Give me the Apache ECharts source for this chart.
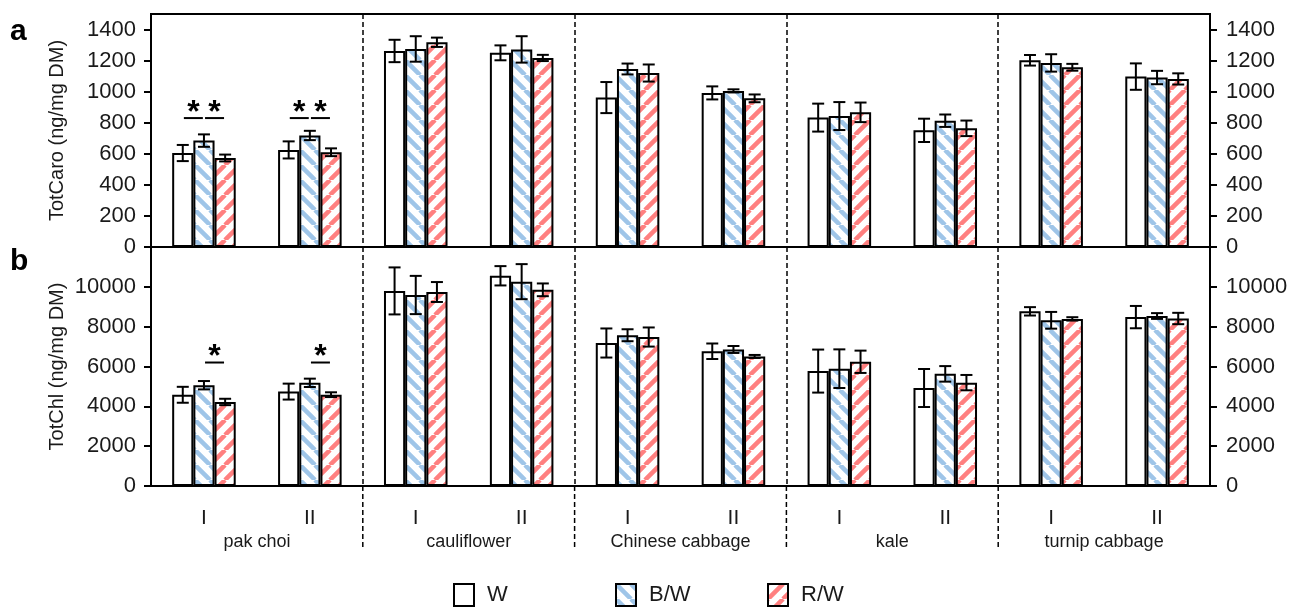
<html>
<head>
<script src="https://cdn.jsdelivr.net/npm/echarts/dist/echarts.min.js"></script>
<style>
    body { margin: 0; background: #fff; }
    #chart { width: 1309px; height: 610px; }
</style>
</head>
<body>
<div id="chart"></div>
<script>
// ---- data ----
const groups = ['pak choi', 'cauliflower', 'Chinese cabbage', 'kale', 'turnip cabbage'];
const harvests = ['I', 'II'];
const treatments = ['W', 'B/W', 'R/W'];

// TotCaro (panel a), order: pak choi I, II, cauliflower I, II, ...
const caroW = [605, 625, 1262, 1250, 962, 992, 833, 751, 1202, 1097];
const caroWErr = [52, 55, 72, 48, 100, 42, 90, 75, 34, 85];
const caroB = [685, 718, 1275, 1272, 1146, 1005, 843, 813, 1185, 1091];
const caroBErr = [40, 30, 82, 85, 35, 10, 90, 40, 56, 43];
const caroR = [573, 610, 1318, 1217, 1120, 957, 867, 764, 1157, 1082];
const caroRErr = [22, 25, 30, 20, 55, 25, 63, 50, 22, 36];

// TotChl (panel b)
const chlW = [4580, 4740, 9795, 10555, 7180, 6765, 5770, 4920, 8770, 8480];
const chlWErr = [400, 400, 1180, 485, 730, 390, 1080, 955, 210, 560];
const chlB = [5060, 5180, 9590, 10260, 7570, 6855, 5890, 5630, 8320, 8535];
const chlBErr = [210, 210, 960, 880, 300, 175, 970, 390, 420, 145];
const chlR = [4220, 4585, 9740, 9850, 7480, 6505, 6237, 5190, 8390, 8410];
const chlRErr = [160, 120, 500, 320, 480, 75, 560, 385, 85, 285];

// significance: [category, from bar, to bar, height of the line]
const sigCaro = [[0, 0, 1, 830], [0, 1, 2, 830], [1, 0, 1, 830], [1, 1, 2, 830]];
const sigChl = [[0, 1, 2, 6200], [1, 1, 2, 6200]];

const caroTicks = [0, 200, 400, 600, 800, 1000, 1200, 1400];
const chlTicks = [0, 2000, 4000, 6000, 8000, 10000];
const caroMax = 1500, chlMax = 12000;

// ---- helpers ----
const categories = [];
groups.forEach(g => harvests.forEach(h => categories.push(g + '|' + h)));

const FONT = 'Arial, "Liberation Sans", sans-serif';
const TXT = '#1a1a1a';

function stripes(color, dir) {
    const s = 15;
    const c = document.createElement('canvas');
    c.width = c.height = s;
    const g = c.getContext('2d');
    g.fillStyle = '#fff';
    g.fillRect(0, 0, s, s);
    g.strokeStyle = color;
    g.lineWidth = 4.5;
    g.beginPath();
    for (let k = -1; k <= 1; k++) {
        if (dir > 0) { g.moveTo(k * s, s); g.lineTo(k * s + s, 0); }
        else { g.moveTo(k * s, 0); g.lineTo(k * s + s, s); }
    }
    g.stroke();
    return { image: c, repeat: 'repeat' };
}

const fills = ['#ffffff', stripes('#9fc5e8', -1), stripes('#ff8080', 1)];

function errRows(means, errs) {
    const rows = [];
    means.forEach((m, k) => m.forEach((v, i) => rows.push([i, k, v - errs[k][i], v + errs[k][i]])));
    return rows;
}

function renderErr(params, api) {
    const bw = api.size([1, 0])[0] * 0.2;
    const k = api.value(1);
    const lo = api.coord([api.value(0), api.value(2)]);
    const hi = api.coord([api.value(0), api.value(3)]);
    const x = lo[0] + (k - 1) * bw;
    const cap = 6;
    const st = { stroke: '#000', lineWidth: 2 };
    return {
        type: 'group',
        children: [
            { type: 'line', shape: { x1: x, y1: lo[1], x2: x, y2: hi[1] }, style: st },
            { type: 'line', shape: { x1: x - cap, y1: lo[1], x2: x + cap, y2: lo[1] }, style: st },
            { type: 'line', shape: { x1: x - cap, y1: hi[1], x2: x + cap, y2: hi[1] }, style: st }
        ]
    };
}

function renderSig(params, api) {
    const bw = api.size([1, 0])[0] * 0.2;
    const p = api.coord([api.value(0), api.value(3)]);
    const x1 = p[0] + (api.value(1) - 1) * bw;
    const x2 = p[0] + (api.value(2) - 1) * bw;
    const mid = (x1 + x2) / 2;
    return {
        type: 'group',
        children: [
            { type: 'line', shape: { x1: mid - 9.5, y1: p[1], x2: mid + 9.5, y2: p[1] },
              style: { stroke: '#000', lineWidth: 2 } },
            { type: 'text', x: mid, y: p[1] - 5,
              style: { text: '*', fill: '#000', font: 'bold 32px ' + FONT, align: 'center', verticalAlign: 'middle' } }
        ]
    };
}

// y tick labels on both sides (ECharts drops neighbours of the end labels when they are this close)
function renderTickLabel(params, api) {
    const v = api.value(1);
    const p = api.coord([0, v]);
    const cs = params.coordSys;
    const st = { text: String(v), fill: TXT, font: '22px ' + FONT, verticalAlign: 'middle' };
    return {
        type: 'group',
        children: [
            { type: 'text', x: cs.x - 15, y: p[1], style: Object.assign({ align: 'right' }, st) },
            { type: 'text', x: cs.x + cs.width + 16, y: p[1], style: Object.assign({ align: 'left' }, st) }
        ]
    };
}

// group separators below the plot, between the group labels
function renderSep(params, api) {
    const bw = api.size([1, 0])[0];
    const p = api.coord([api.value(0), 0]);
    const x = p[0] - bw / 2;
    const top = params.coordSys.y;
    const bottom = top + params.coordSys.height;
    return { type: 'line', shape: { x1: x, y1: top, x2: x, y2: bottom },
             style: { stroke: '#000', lineWidth: 1.5, lineDash: [5, 3] } };
}

function barSeries(values, xi, yi) {
    return values.map((v, k) => ({
        name: treatments[k],
        type: 'bar',
        xAxisIndex: xi,
        yAxisIndex: yi,
        data: v,
        barWidth: '20%',
        barGap: '0%',
        itemStyle: { color: fills[k], borderColor: '#000', borderWidth: 2 },
        emphasis: { disabled: true }
    }));
}

const splitEveryGroup = {
    show: true,
    interval: (i) => i % 2 === 0 && i > 0,
    lineStyle: { color: '#000', type: [5, 3], width: 1.5 }
};

function yAx(gi, side, ticks, max, name) {
    return {
        type: 'value', gridIndex: gi, position: side, min: 0, max: max,
        name: name, nameLocation: 'middle', nameGap: 76,
        nameTextStyle: { fontFamily: FONT, fontSize: 20, color: TXT },
        axisLine: { show: true, lineStyle: { color: '#000', width: 2 } },
        axisTick: { show: true, inside: false, length: 7, lineStyle: { color: '#000', width: 2 }, customValues: ticks },
        axisLabel: { show: false },
        splitLine: { show: false }
    };
}

const chart = echarts.init(document.getElementById('chart'));
chart.setOption({
    animation: false,
    backgroundColor: '#fff',
    title: [
        { text: 'a', left: 10, top: 6, padding: 0, textStyle: { fontFamily: FONT, fontSize: 30, fontWeight: 'bold', color: '#000' } },
        { text: 'b', left: 10, top: 236, padding: 0, textStyle: { fontFamily: FONT, fontSize: 30, fontWeight: 'bold', color: '#000' } }
    ],
    legend: [
        { data: ['W'], left: 453, top: 576 },
        { data: ['B/W'], left: 615, top: 576 },
        { data: ['R/W'], left: 767, top: 576 }
    ].map(l => Object.assign(l, {
        padding: 0, itemWidth: 20, itemHeight: 22, itemGap: 10, selectedMode: false, icon: 'rect',
        textStyle: { fontFamily: FONT, fontSize: 22, color: TXT, padding: [0, 0, 0, 8] }
    })),
    grid: [
        { left: 151, width: 1059, top: 14, height: 233, show: true, borderColor: '#000', borderWidth: 2 },
        { left: 151, width: 1059, top: 247, height: 239, show: true, borderColor: '#000', borderWidth: 2 },
        { left: 151, width: 1059, top: 486, height: 63 }
    ],
    xAxis: [
        { type: 'category', gridIndex: 0, data: categories,
          axisLine: { lineStyle: { color: '#000', width: 2 } }, axisTick: { show: false },
          axisLabel: { show: false }, splitLine: splitEveryGroup },
        { type: 'category', gridIndex: 1, data: categories,
          axisLine: { lineStyle: { color: '#000', width: 2 } }, axisTick: { show: false },
          axisLabel: { fontFamily: FONT, fontSize: 21, color: TXT, margin: 14, formatter: v => v.split('|')[1] },
          splitLine: splitEveryGroup },
        { type: 'category', gridIndex: 2, data: groups,
          axisLine: { show: false }, axisTick: { show: false },
          axisLabel: { fontFamily: FONT, fontSize: 18, color: TXT, margin: -7, verticalAlign: 'middle' },
          splitLine: { show: false } }
    ],
    yAxis: [
        yAx(0, 'left', caroTicks, caroMax, 'TotCaro (ng/mg DM)'),
        yAx(0, 'right', caroTicks, caroMax, ''),
        yAx(1, 'left', chlTicks, chlMax, 'TotChl (ng/mg DM)'),
        yAx(1, 'right', chlTicks, chlMax, ''),
        { type: 'value', gridIndex: 2, show: false, min: 0, max: 1 }
    ],
    series: [
        ...barSeries([caroW, caroB, caroR], 0, 0),
        ...barSeries([chlW, chlB, chlR], 1, 2),
        { type: 'custom', xAxisIndex: 0, yAxisIndex: 0, renderItem: renderErr, z: 5,
          data: errRows([caroW, caroB, caroR], [caroWErr, caroBErr, caroRErr]) },
        { type: 'custom', xAxisIndex: 1, yAxisIndex: 2, renderItem: renderErr, z: 5,
          data: errRows([chlW, chlB, chlR], [chlWErr, chlBErr, chlRErr]) },
        { type: 'custom', xAxisIndex: 0, yAxisIndex: 0, renderItem: renderSig, z: 5, data: sigCaro },
        { type: 'custom', xAxisIndex: 1, yAxisIndex: 2, renderItem: renderSig, z: 5, data: sigChl },
        { type: 'custom', xAxisIndex: 0, yAxisIndex: 0, renderItem: renderTickLabel, silent: true, clip: false,
          data: caroTicks.map(v => [0, v]) },
        { type: 'custom', xAxisIndex: 1, yAxisIndex: 2, renderItem: renderTickLabel, silent: true, clip: false,
          data: chlTicks.map(v => [0, v]) },
        { type: 'custom', xAxisIndex: 2, yAxisIndex: 4, renderItem: renderSep, silent: true,
          data: groups.slice(1).map((g, i) => [i + 1, 0]) }
    ]
});
</script>
</body>
</html>
